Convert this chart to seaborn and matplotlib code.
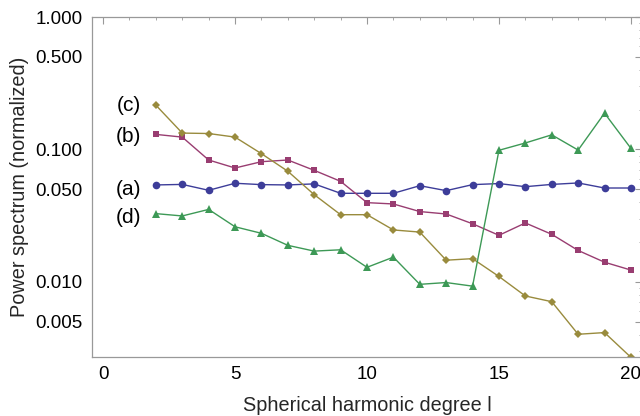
import numpy as np
import pandas as pd
import seaborn as sns
import matplotlib
matplotlib.use("Agg")
import matplotlib.pyplot as plt
from matplotlib.ticker import FixedLocator, FixedFormatter, NullFormatter

# Spherical harmonic degrees
degree = list(range(2, 21))

# Normalized power spectra of the four fields
spec_a = [0.054, 0.0545, 0.0492, 0.0556, 0.0543, 0.054, 0.055, 0.0467, 0.0467,
          0.0467, 0.0533, 0.0489, 0.0543, 0.0553, 0.0524, 0.0545, 0.0559, 0.0512, 0.0512]
spec_b = [0.130, 0.124, 0.0833, 0.0725, 0.0809, 0.0833, 0.0696, 0.0575, 0.0397,
          0.0388, 0.0340, 0.0326, 0.0275, 0.0225, 0.0279, 0.0229, 0.0173, 0.0141, 0.0123]
spec_c = [0.216, 0.133, 0.132, 0.124, 0.093, 0.0685, 0.0456, 0.0322, 0.0322,
          0.0247, 0.0238, 0.0146, 0.0150, 0.0110, 0.00784, 0.0071, 0.00403, 0.00415, 0.0027]
spec_d = [0.0328, 0.0315, 0.0353, 0.0261, 0.0233, 0.0189, 0.0171, 0.0175, 0.0129,
          0.0154, 0.0096, 0.0099, 0.0093, 0.0986, 0.112, 0.129, 0.099, 0.188, 0.102]

labels = ["(a)", "(b)", "(c)", "(d)"]
label_y = [0.0495, 0.126, 0.216, 0.0305]
y_ticks = [1.0, 0.5, 0.1, 0.05, 0.01, 0.005]
y_tick_labels = ["1.000", "0.500", "0.100", "0.050", "0.010", "0.005"]
x_ticks = [0, 5, 10, 15, 20]

sns.set_theme(style="white")
plt.rcParams["font.family"] = ["Liberation Sans", "DejaVu Sans"]

colors = [(0.24, 0.24, 0.6), (0.6, 0.24, 0.4428), (0.6, 0.547, 0.24), (0.24, 0.6, 0.33692)]
markers = ["o", "s", "D", "^"]
msizes = [5.5, 5.0, 4.0, 5.5]

fig = plt.figure(figsize=(6.4, 4.16), dpi=100)
ax = fig.add_axes([92 / 640, 59.3 / 416, 550 / 640, 339.7 / 416])

series = [spec_a, spec_b, spec_c, spec_d]
for vals, lab, ly, col, mk, ms in zip(series, labels, label_y, colors, markers, msizes):
    df = pd.DataFrame({"l": degree, "power": vals})
    sns.lineplot(data=df, x="l", y="power", ax=ax, color=col, marker=mk,
                 markersize=ms, markeredgewidth=0, linewidth=1.0, legend=False)
    ax.text(1.43, ly, lab, ha="right", va="center", fontsize=15,
            color="black")

ax.set_yscale("log")
ax.set_xlim(-0.42, 20.42)
ax.set_ylim(10 ** -2.564, 1.0)

ax.yaxis.set_major_locator(FixedLocator(y_ticks))
ax.yaxis.set_major_formatter(FixedFormatter(y_tick_labels))
minor_y = [m * 10.0 ** e for e in (-3, -2, -1) for m in (2, 3, 4, 6, 7, 8, 9)]
ax.yaxis.set_minor_locator(FixedLocator(minor_y))
ax.yaxis.set_minor_formatter(NullFormatter())
ax.xaxis.set_major_locator(FixedLocator(x_ticks))
ax.xaxis.set_minor_locator(FixedLocator([i for i in range(0, 21) if i % 5]))

ax.tick_params(which="both", direction="in", top=True, right=True,
               colors="#999999", labelcolor="black", labelsize=13.5)
ax.tick_params(which="major", length=5, width=0.8)
ax.tick_params(which="minor", length=2.5, width=0.6)
ax.tick_params(axis="x", pad=7)
ax.tick_params(axis="y", pad=7)

for sp in ax.spines.values():
    sp.set_color("#999999")
    sp.set_linewidth(0.9)

ax.set_xlabel("Spherical harmonic degree l", fontsize=14.3, labelpad=9)
ax.set_ylabel("Power spectrum (normalized)", fontsize=14.3, labelpad=4)

fig.savefig("out.png", dpi=100)
